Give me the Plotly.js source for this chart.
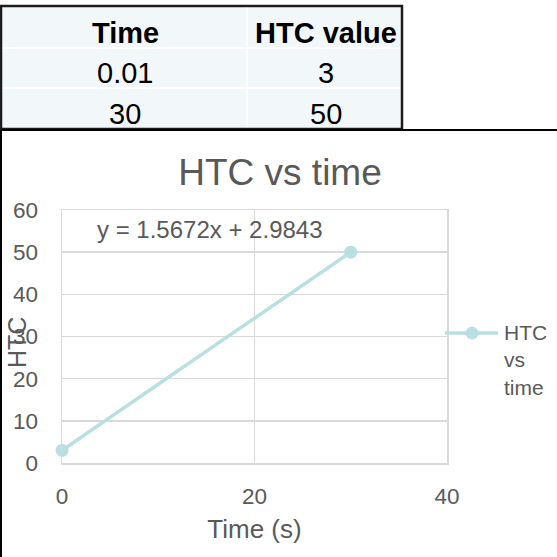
<!DOCTYPE html>
<html>
<head>
<meta charset="utf-8">
<script src="https://cdn.plot.ly/plotly-3.0.1.min.js"></script>
<style>
  html, body { margin: 0; padding: 0; background: #ffffff; overflow: hidden; }
  #chart { width: 557px; height: 557px; }
</style>
</head>
<body>
<div id="chart"></div>
<script>
// Source table and series
const times = [0.01, 30];
const htc = [3, 50];
const colHeaders = ['Time', 'HTC value'];
const seriesName = 'HTC vs time';
const chartTitle = 'HTC vs time';
const xTitle = 'Time (s)';
const yTitle = 'HTC';
const xTickVals = [0, 20, 40];
const yTickVals = [0, 10, 20, 30, 40, 50, 60];

// Page geometry (pixels) of the plot area
const W = 557, H = 557;
const PL = 62, PR = 447, PT = 210, PB = 463;
const xp = px => (px - PL) / (PR - PL);
const yp = py => (PB - py) / (PB - PT);

const FONT = 'Liberation Sans, Arial, sans-serif';
const GREY = '#595959';
const SERIES = '#b9dfe3';

// Least-squares linear trendline through the series
function linfit(x, y) {
  const n = x.length;
  const mx = x.reduce((a, b) => a + b, 0) / n;
  const my = y.reduce((a, b) => a + b, 0) / n;
  let sxy = 0, sxx = 0;
  for (let i = 0; i < n; i++) { sxy += (x[i] - mx) * (y[i] - my); sxx += (x[i] - mx) ** 2; }
  const m = sxy / sxx;
  return { m, b: my - m * mx };
}
const fit = linfit(times, htc);
const eqText = 'y = ' + fit.m.toFixed(4) + 'x ' + (fit.b >= 0 ? '+ ' : '- ') + Math.abs(fit.b).toFixed(4);

const trace = {
  x: times, y: htc, type: 'scatter', mode: 'lines+markers', name: seriesName,
  line: { color: SERIES, width: 3.5 },
  marker: { color: SERIES, size: 13 },
  cliponaxis: false, showlegend: false, hoverinfo: 'skip'
};

// Spreadsheet table above the chart
const tblL = 1, tblR = 402, tblT = 6, tblB = 129, colDiv = 247;
const rowDivs = [48, 88];
const colCenters = [125, 326];
const rowTextY = [33, 73, 114];

const shapes = [];
shapes.push({ type: 'rect', xref: 'paper', yref: 'paper', x0: xp(tblL), x1: xp(tblR), y0: yp(tblT), y1: yp(tblB),
  fillcolor: '#f2f7fa', line: { width: 0 } });
shapes.push({ type: 'line', xref: 'paper', yref: 'paper', x0: xp(colDiv), x1: xp(colDiv), y0: yp(tblT), y1: yp(tblB),
  line: { color: '#ffffff', width: 2 } });
rowDivs.forEach(r => shapes.push({ type: 'line', xref: 'paper', yref: 'paper', x0: xp(tblL), x1: xp(tblR), y0: yp(r), y1: yp(r),
  line: { color: '#ffffff', width: 2 } }));
shapes.push({ type: 'rect', xref: 'paper', yref: 'paper', x0: xp(tblL), x1: xp(tblR), y0: yp(tblT), y1: yp(tblB),
  line: { color: '#1c1c1c', width: 2.5 } });

// Chart frame
shapes.push({ type: 'line', xref: 'paper', yref: 'paper', x0: xp(1), x1: xp(W + 5), y0: yp(130), y1: yp(130),
  line: { color: '#000000', width: 2 } });
shapes.push({ type: 'line', xref: 'paper', yref: 'paper', x0: xp(1), x1: xp(1), y0: yp(130), y1: yp(H + 5),
  line: { color: '#000000', width: 2 } });

// Legend sample
const legY = 333;
shapes.push({ type: 'line', xref: 'paper', yref: 'paper', x0: xp(445), x1: xp(498), y0: yp(legY), y1: yp(legY),
  line: { color: SERIES, width: 3.5 } });
shapes.push({ type: 'circle', xref: 'paper', yref: 'paper', xsizemode: 'pixel', ysizemode: 'pixel',
  xanchor: xp(472), yanchor: yp(legY), x0: -6.5, x1: 6.5, y0: -6.5, y1: 6.5,
  fillcolor: SERIES, line: { width: 0 } });

const annotations = [];
colHeaders.forEach((h, i) => annotations.push({ xref: 'paper', yref: 'paper', x: xp(colCenters[i]), y: yp(rowTextY[0]),
  text: '<b>' + h + '</b>', showarrow: false, xanchor: 'center', yanchor: 'middle',
  font: { family: FONT, size: 29, color: '#000000' } }));
times.forEach((t, r) => {
  [String(t), String(htc[r])].forEach((v, c) => annotations.push({ xref: 'paper', yref: 'paper',
    x: xp(colCenters[c]), y: yp(rowTextY[r + 1]), text: v, showarrow: false, xanchor: 'center', yanchor: 'middle',
    font: { family: FONT, size: 29, color: '#000000' } }));
});

// Trendline equation
annotations.push({ xref: 'paper', yref: 'paper', x: xp(210), y: yp(229), text: eqText, showarrow: false,
  xanchor: 'center', yanchor: 'middle', font: { family: FONT, size: 24, color: GREY } });

// Y axis title
annotations.push({ xref: 'paper', yref: 'paper', x: xp(17), y: yp(343), text: yTitle, textangle: -90, showarrow: false,
  xanchor: 'center', yanchor: 'middle', font: { family: FONT, size: 25, color: GREY } });

// Legend text
annotations.push({ xref: 'paper', yref: 'paper', x: xp(502), y: yp(legY - 14), text: seriesName.split(' ').join('<br>'),
  showarrow: false, xanchor: 'left', yanchor: 'top', align: 'left',
  font: { family: FONT, size: 21, color: GREY } });

const axisCommon = {
  showgrid: true, gridcolor: '#d9d9d9', gridwidth: 1.5,
  showline: true, linecolor: '#d9d9d9', linewidth: 1.5, mirror: true,
  zeroline: false, ticks: '', fixedrange: true,
  tickfont: { family: FONT, size: 22.5, color: GREY }
};

const layout = {
  width: W, height: H,
  margin: { l: PL, r: W - PR, t: PT, b: H - PB, pad: 0 },
  paper_bgcolor: '#ffffff', plot_bgcolor: '#ffffff',
  title: { text: chartTitle, x: 280 / W, xanchor: 'center', y: 1 - 172 / H, yanchor: 'middle',
    font: { family: FONT, size: 37, color: GREY } },
  xaxis: Object.assign({}, axisCommon, {
    range: [0, 40], tickvals: xTickVals, ticklabelstandoff: 12,
    title: { text: xTitle, standoff: 12, font: { family: FONT, size: 26, color: GREY } }
  }),
  yaxis: Object.assign({}, axisCommon, {
    range: [0, 60], tickvals: yTickVals, ticklabelstandoff: 18
  }),
  showlegend: false,
  shapes: shapes,
  annotations: annotations
};

Plotly.newPlot('chart', [trace], layout, { displayModeBar: false, staticPlot: true });
</script>
</body>
</html>
